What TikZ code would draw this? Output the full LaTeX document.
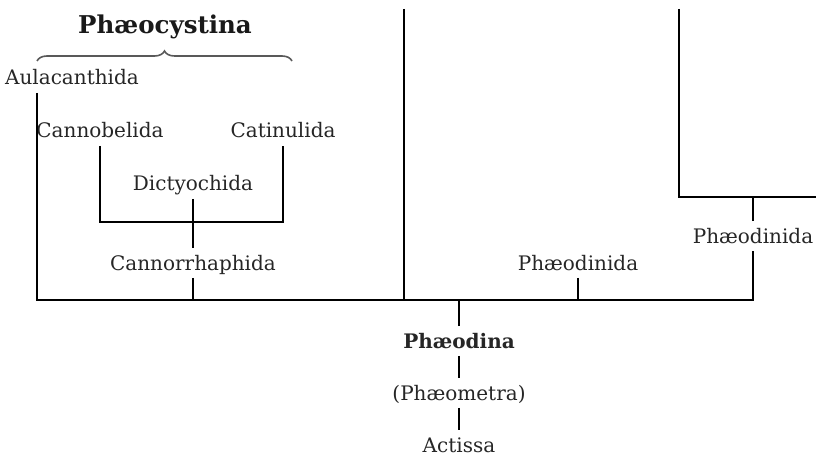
\documentclass[tikz,border=0pt]{standalone}
\usepackage{fontspec}
\setmainfont{DejaVu Serif}
\usetikzlibrary{decorations.pathreplacing}

\begin{document}
\begin{tikzpicture}[
  x=1pt, y=-1pt, line width=1.8pt,
  font=\fontsize{20}{24}\selectfont,
  taxon/.style={text=black!85, inner sep=4pt, text height=17pt, text depth=3pt},
  raiz/.style={taxon, font=\fontsize{20}{24}\selectfont\bfseries},
  titulo/.style={text=black!90, font=\fontsize{24.5}{29}\selectfont\bfseries},
  chave/.style={draw=black!65, line width=1.6pt, decorate,
                decoration={brace, amplitude=10pt}},
]
  \useasboundingbox (0,0) rectangle (816,457);

  \node[titulo] (cystina) at (165,27) {Phæocystina};
  \draw[chave] (37,61) -- (292,61);

  \node[taxon] (aul) at (72,78) {Aulacanthida};
  \node[taxon] (cannob) at (100,131) {Cannobelida};
  \node[taxon] (catin) at (283,131) {Catinulida};
  \node[taxon] (dicty) at (193,184) {Dictyochida};
  \node[taxon] (cannor) at (193,263) {Cannorrhaphida};
  \node[taxon] (phd1) at (578,263) {Phæodinida};
  \node[taxon] (phd2) at (753,236) {Phæodinida};

  \node[raiz] (phaeodina) at (459,341) {Phæodina};
  \node[taxon] (phaeometra) at (459,393) {(Phæometra)};
  \node[taxon] (actissa) at (459,445) {Actissa};

  % junctions and free ends
  \coordinate (j1) at (193,222);
  \coordinate (b0) at (37,300);
  \coordinate (b1) at (753,300);
  \coordinate (top1) at (404,9);
  \coordinate (top2) at (679,9);
  \coordinate (edge) at (816,197);

  \draw (cannob.south) |- (j1) -| (catin.south);
  \draw (dicty) -- (cannor);
  \draw (cannor) -- (cannor |- b0);
  \draw (b0 |- aul.south) -- (b0) -- (b1) -- (phd2);
  \draw (top1) -- (top1 |- b0);
  \draw (phd1) -- (phd1 |- b0);
  \draw (top2) |- (edge);
  \draw (phd2) -- (phd2 |- edge);

  \draw (phaeodina) -- (phaeodina |- b0);
  \draw (phaeodina) -- (phaeometra);
  \draw (phaeometra) -- (actissa);
\end{tikzpicture}
\end{document}
